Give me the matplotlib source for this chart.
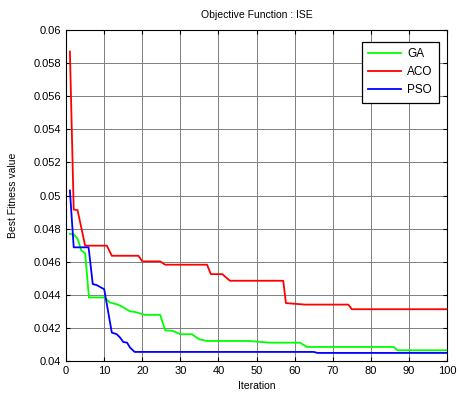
import matplotlib
matplotlib.use('Agg')
import matplotlib.pyplot as plt

plt.rcParams['font.family'] = ['Liberation Sans', 'DejaVu Sans']

# breakpoints of each convergence curve (iteration, best fitness)
ga_x = [1, 2, 3, 4, 5, 6, 10, 11.5, 13.3, 14.6, 16.8, 18, 20.7, 24.7, 26, 28, 30, 33, 35, 37,
        48, 53.5, 61.4, 63.2, 86, 87, 100]
ga_y = [0.04768, 0.04765, 0.0474, 0.04667, 0.04651, 0.04384, 0.04384, 0.04354, 0.04343, 0.0433,
        0.0430, 0.04297, 0.04279, 0.04279, 0.04186, 0.04182, 0.04162, 0.04162, 0.04131, 0.04121,
        0.04121, 0.04111, 0.04111, 0.04085, 0.04085, 0.04065, 0.04065]

aco_x = [1, 2, 3, 5, 10.7, 12, 19, 20, 24.7, 26, 37, 38, 41, 43, 57, 57.7, 62.7, 74.1, 75, 100]
aco_y = [0.0587, 0.04915, 0.04912, 0.04697, 0.04697, 0.04636, 0.04636, 0.04602, 0.04602, 0.04582,
         0.04582, 0.04525, 0.04525, 0.04485, 0.04485, 0.0435, 0.04341, 0.04341, 0.04313, 0.04313]

pso_x = [1, 2, 5.9, 7, 8, 10, 12, 13.3, 14.2, 15, 16, 16.8, 18, 65, 66, 100]
pso_y = [0.0503, 0.04687, 0.04687, 0.04465, 0.04459, 0.04434, 0.04172, 0.04162, 0.04141, 0.04115,
         0.04111, 0.04081, 0.04055, 0.04055, 0.04049, 0.04049]

fig = plt.figure(figsize=(4.59, 3.95), dpi=100)
ax = fig.add_axes([0.144, 0.086, 0.830, 0.838])

ax.plot(ga_x, ga_y, color='#00ff00', lw=1.3, label='GA')
ax.plot(aco_x, aco_y, color='#ff0000', lw=1.3, label='ACO')
ax.plot(pso_x, pso_y, color='#0000ff', lw=1.3, label='PSO')

ax.set_xlim(0, 100)
ax.set_ylim(0.04, 0.06)
ax.set_xticks(range(0, 101, 10))
ax.set_yticks([0.04 + 0.002 * i for i in range(11)])
ax.set_yticklabels(['0.04', '0.042', '0.044', '0.046', '0.048', '0.05', '0.052', '0.054',
                    '0.056', '0.058', '0.06'])
ax.grid(True, color='#7f7f7f', lw=0.7)
ax.tick_params(direction='in', top=True, right=True, labelsize=8, length=3, width=0.8)
for s in ax.spines.values():
    s.set_linewidth(0.8)

ax.set_title('Objective Function : ISE', fontsize=7.5, pad=9)
ax.set_xlabel('Iteration', fontsize=7.5, labelpad=4)
ax.set_ylabel('Best Fitness value', fontsize=7.5, labelpad=11)

leg = ax.legend(loc='upper right', bbox_to_anchor=(0.979, 0.964), borderaxespad=0,
                fontsize=8.5, fancybox=False, framealpha=1, edgecolor='black',
                handlelength=2.8, labelspacing=0.5, borderpad=0.55, handletextpad=0.5)
leg.get_frame().set_linewidth(0.9)

fig.savefig('out.png', dpi=100)
